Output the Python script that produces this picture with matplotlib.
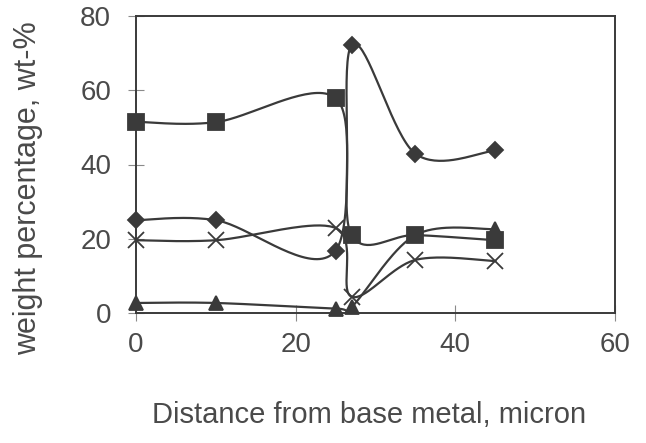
import numpy as np
import matplotlib
matplotlib.use("Agg")
import matplotlib.pyplot as plt

# distance from base metal (micron)
distance = [0, 10, 25, 27, 35, 45]

# weight percentages
squares = [51.5, 51.4, 57.9, 21.0, 21.0, 19.6]
diamonds = [25.0, 25.0, 16.8, 72.1, 42.9, 43.8]
crosses = [19.6, 19.6, 22.9, 4.4, 14.3, 14.0]
triangles = [2.7, 2.7, 1.2, 1.6, 21.0, 22.6]

x_ticks = [0, 20, 40, 60]
y_ticks = [0, 20, 40, 60, 80]

INK = "#3a3a3a"
TXT = "#4a4a4a"


def smooth(xs, ys, n=40):
    """Excel style smoothed line: parametric Catmull-Rom through the points."""
    p = np.column_stack([xs, ys]).astype(float)
    p = np.vstack([p[0], p, p[-1]])
    out = []
    t = np.linspace(0, 1, n)[:, None]
    for i in range(1, len(p) - 2):
        p0, p1, p2, p3 = p[i - 1], p[i], p[i + 1], p[i + 2]
        c1 = p1 + (p2 - p0) / 6
        c2 = p2 - (p3 - p1) / 6
        seg = ((1 - t) ** 3) * p1 + 3 * ((1 - t) ** 2) * t * c1 \
            + 3 * (1 - t) * t ** 2 * c2 + t ** 3 * p2
        out.append(seg if i == 1 else seg[1:])
    seg = np.vstack(out)
    return seg[:, 0], seg[:, 1]


plt.rcParams['font.family'] = ['Liberation Sans', 'DejaVu Sans']

fig = plt.figure(figsize=(6.46, 4.43), dpi=100)
ax = fig.add_axes([136 / 646, 1 - 313 / 443, 479 / 646, 297 / 443])

series = [
    (squares, "s", 11),
    (diamonds, "D", 8.5),
    (crosses, "x", 12),
    (triangles, "^", 10),
]
for vals, mk, ms in series:
    sx, sy = smooth(distance, vals)
    ax.plot(sx, sy, color=INK, lw=1.6, clip_on=False, zorder=3)
    ax.plot(distance, vals, ls="none", marker=mk, ms=ms, color=INK,
            mec=INK, mew=1.3, clip_on=False, zorder=4)

ax.set_xlim(0, 60)
ax.set_ylim(0, 80)
ax.set_xticks(x_ticks)
ax.set_yticks(y_ticks)
for s in ax.spines.values():
    s.set_color(INK)
    s.set_linewidth(1.4)

ax.tick_params(axis="both", direction="inout", length=12, width=0.8,
               colors="#8a8a8a", labelcolor=TXT, labelsize=20)
ax.tick_params(axis="x", pad=8)
ax.tick_params(axis="y", pad=12)

ax.set_xlabel("Distance from base metal, micron", fontsize=21, color=TXT,
              va="center")
ax.xaxis.set_label_coords(0.486, -0.343)
ax.set_ylabel("weight percentage, wt-%", fontsize=22, color=TXT,
              va="center")
ax.yaxis.set_label_coords(-0.2255, 0.421)

fig.savefig("out.png", dpi=100)
